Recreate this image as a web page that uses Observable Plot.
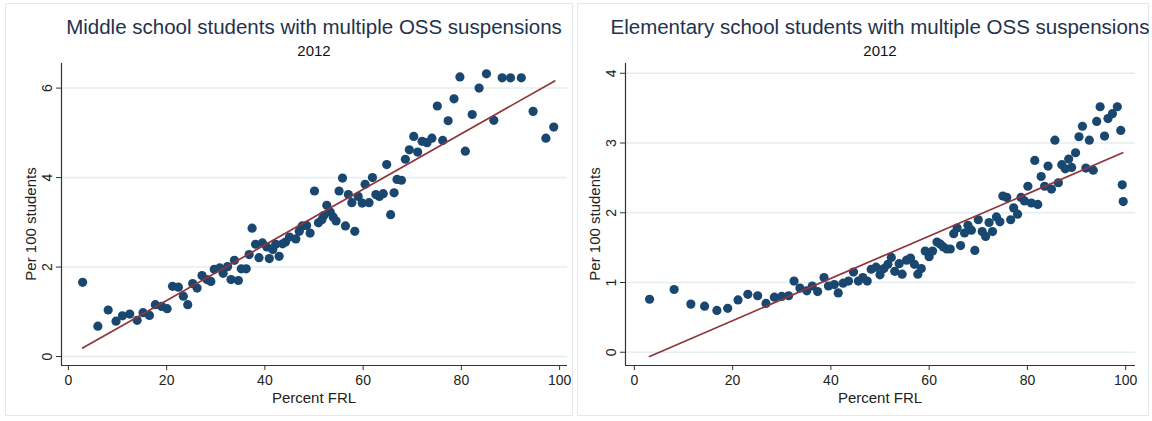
<!DOCTYPE html>
<html><head><meta charset="utf-8">
<script src="https://cdn.jsdelivr.net/npm/d3@7"></script>
<script src="https://cdn.jsdelivr.net/npm/@observablehq/plot@0.6"></script>
<style>
body{margin:0;background:#fff;font-family:"Liberation Sans",Arial,sans-serif;}
#wrap{position:relative;width:1152px;height:421px;overflow:hidden;}
.panel{position:absolute;top:0;width:576px;height:421px;}
.border{position:absolute;top:3px;height:413px;border:1px solid #e2eaed;box-sizing:border-box;}
.title{position:absolute;top:15px;font-size:20.5px;line-height:23px;color:#22324d;white-space:nowrap;transform:translateX(-50%);}
.sub{position:absolute;top:42px;font-size:15px;line-height:17px;color:#111;white-space:nowrap;transform:translateX(-50%);}
.xlab{position:absolute;top:389px;font-size:15px;line-height:17px;color:#222;white-space:nowrap;transform:translateX(-50%);}
.ylab{position:absolute;top:224px;font-size:15px;line-height:17px;color:#222;white-space:nowrap;transform:translate(-50%,-50%) rotate(-90deg);}
.plot{position:absolute;top:60px;left:0;}
</style>
</head><body>
<div id="wrap">
  <div class="panel" id="p1" style="left:0">
    <div class="border" style="left:5px;width:568px"></div>
    <div class="title" style="left:314px">Middle school students with multiple OSS suspensions</div>
    <div class="sub" style="left:314px">2012</div>
    <div class="plot"></div>
    <div class="xlab" style="left:314px">Percent FRL</div>
    <div class="ylab" style="left:30px">Per 100 students</div>
  </div>
  <div class="panel" id="p2" style="left:576px">
    <div class="border" style="left:1px;width:572px"></div>
    <div class="title" style="left:304px">Elementary school students with multiple OSS suspensions</div>
    <div class="sub" style="left:304px">2012</div>
    <div class="plot"></div>
    <div class="xlab" style="left:304px">Percent FRL</div>
    <div class="ylab" style="left:18px">Per 100 students</div>
  </div>
</div>
<script>
// Middle school (Percent FRL vs per 100 students)
const midX = [2.9,6.0,8.1,9.7,11.0,12.5,14.0,15.2,16.5,17.7,19.0,20.1,21.2,22.4,23.4,24.3,25.3,26.2,27.2,28.2,29.0,29.7,30.8,31.5,32.4,33.1,33.8,34.6,35.2,36.2,36.8,37.4,38.1,38.8,39.5,40.4,40.9,41.6,42.2,42.9,43.6,44.2,45.0,46.3,47.0,47.6,48.5,49.2,50.1,50.9,51.6,52.0,52.6,53.3,53.9,54.5,55.1,55.8,56.4,57.0,57.7,58.3,59.0,59.8,60.4,61.2,61.9,62.6,63.3,64.1,64.8,65.6,66.3,66.9,67.8,68.6,69.4,70.3,71.1,72.0,73.0,74.0,75.1,76.2,77.3,78.5,79.7,80.8,82.2,83.6,85.1,86.6,88.3,90.0,92.2,94.6,97.2,98.8];
const midY = [1.66,0.68,1.04,0.79,0.91,0.95,0.81,0.98,0.92,1.16,1.12,1.07,1.57,1.55,1.35,1.16,1.63,1.53,1.81,1.72,1.68,1.95,1.98,1.86,2.01,1.72,2.15,1.70,1.96,1.96,2.28,2.87,2.51,2.21,2.54,2.45,2.19,2.39,2.51,2.24,2.52,2.56,2.67,2.63,2.80,2.92,2.93,2.76,3.70,2.99,3.06,3.15,3.38,3.23,3.12,3.03,3.70,3.99,2.92,3.62,3.44,2.80,3.58,3.43,3.85,3.44,4.00,3.62,3.58,3.64,4.29,3.17,3.66,3.96,3.94,4.41,4.62,4.92,4.57,4.81,4.78,4.88,5.60,4.83,5.27,5.76,6.25,4.59,5.41,6.00,6.32,5.28,6.23,6.23,6.23,5.48,4.88,5.13];
const midFitX = [2.9, 99.0];
const midFitY = [0.19, 6.16];

// Elementary school
const elemX = [3.1,8.1,11.5,14.3,16.8,19.0,21.1,23.1,25.1,26.8,28.5,30.0,31.4,32.5,33.7,35.1,36.2,37.3,38.6,39.5,40.7,41.5,42.5,43.6,44.6,45.6,46.5,47.4,48.2,49.2,50.0,50.8,51.6,52.3,53.0,53.9,54.5,55.4,56.2,57.0,57.7,58.4,59.2,60.0,60.7,61.6,62.3,62.9,63.6,64.3,65.0,65.7,66.4,67.2,67.9,68.6,69.3,70.0,70.8,71.5,72.2,72.9,73.7,74.4,75.0,75.8,76.6,77.2,78.0,78.7,79.4,80.1,80.8,81.5,82.1,82.8,83.5,84.2,84.9,85.6,86.3,87.0,87.7,88.4,89.0,89.8,90.5,91.2,91.9,92.6,93.4,94.1,94.8,95.7,96.4,97.3,98.3,99.0,99.3,99.5];
const elemY = [0.76,0.90,0.69,0.66,0.60,0.63,0.75,0.83,0.81,0.70,0.79,0.80,0.81,1.02,0.92,0.88,0.95,0.87,1.07,0.95,0.97,0.85,0.99,1.02,1.15,1.02,1.07,1.02,1.19,1.22,1.11,1.20,1.26,1.36,1.16,1.27,1.12,1.32,1.35,1.26,1.12,1.20,1.45,1.37,1.45,1.58,1.55,1.51,1.48,1.48,1.70,1.78,1.53,1.71,1.82,1.75,1.46,1.90,1.73,1.66,1.86,1.73,1.94,1.87,2.24,2.22,1.90,2.07,1.98,2.22,2.17,2.38,2.14,2.75,2.12,2.52,2.38,2.67,2.34,3.04,2.43,2.69,2.63,2.77,2.65,2.86,3.09,3.24,2.64,3.04,2.61,3.31,3.52,3.10,3.35,3.42,3.52,3.18,2.40,2.16];
const elemFitX = [3.1, 99.4];
const elemFitY = [-0.06, 2.86];

const xTicks = [0, 20, 40, 60, 80, 100];
const midYTicks = [0, 2, 4, 6];
const elemYTicks = [0, 1, 2, 3, 4];

function drawPanel(sel, xs, ys, fx, fy, yTicks, xDomain, yDomain, mL, mR) {
  const pts = xs.map((x, i) => ({x, y: ys[i]}));
  const fit = fx.map((x, i) => ({x, y: fy[i]}));
  const chart = Plot.plot({
    width: 576, height: 361,
    marginTop: 3, marginBottom: 56, marginLeft: mL, marginRight: mR,
    style: {fontFamily: "'Liberation Sans', Arial, sans-serif", fontSize: "14px", color: "#222", background: "transparent", overflow: "visible"},
    x: {domain: xDomain},
    y: {domain: yDomain},
    marks: [
      Plot.gridY({ticks: yTicks, stroke: "#e4eef1", strokeOpacity: 1, strokeWidth: 1.5}),
      Plot.dot(pts, {x: "x", y: "y", r: 4.6, fill: "#1a476f", stroke: "none"}),
      Plot.line(fit, {x: "x", y: "y", stroke: "#90353b", strokeWidth: 1.7}),
      Plot.ruleX([xDomain[0]], {stroke: "#333", strokeWidth: 1.2}),
      Plot.ruleY([yDomain[0]], {stroke: "#333", strokeWidth: 1.2}),
      Plot.axisX({ticks: xTicks, tickSize: 5, tickPadding: 5, stroke: "#333", fill: "#222", fontSize: 14,
        tickFormat: d3.format("d"), label: null}),
      Plot.axisY({ticks: yTicks, tickSize: 5, tickPadding: 5, tickRotate: -90, stroke: "#333", fill: "#222", fontSize: 14,
        textAnchor: "middle", lineAnchor: "bottom", tickFormat: d3.format("d"), label: null})
    ]
  });
  document.querySelector(sel + " .plot").appendChild(chart);
}

drawPanel("#p1", midX, midY, midFitX, midFitY, midYTicks, [-1.4, 101.6], [-0.2, 6.55], 61, 9);
drawPanel("#p2", elemX, elemY, elemFitX, elemFitY, elemYTicks, [-1.8, 102], [-0.19, 4.14], 49, 17);
</script>
</body></html>
